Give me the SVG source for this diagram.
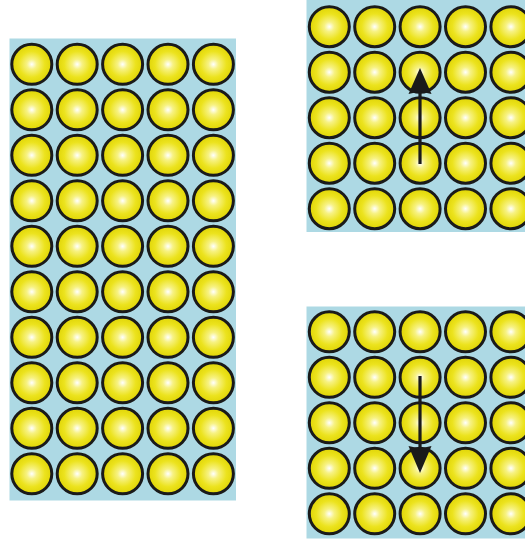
<svg xmlns="http://www.w3.org/2000/svg" xmlns:xlink="http://www.w3.org/1999/xlink" width="525" height="541" viewBox="0 0 525 541">
<style>
.panel{fill:#add9e4}
.ball{fill:url(#g);stroke:#1a1a1a;stroke-width:3}
.shaft{stroke:#1a1a1a;stroke-width:3.2;fill:none}
.head{fill:#1a1a1a}
</style>
<defs>
<radialGradient id="g" cx="0.5" cy="0.5" r="0.5">
<stop offset="0" stop-color="#ffffff"/>
<stop offset="0.25" stop-color="#f7f283"/>
<stop offset="0.65" stop-color="#ece31e"/>
<stop offset="1" stop-color="#e0d505"/>
</radialGradient>
<circle id="b" class="ball" r="20"/>
<g id="row5">
<use xlink:href="#b" x="0"/>
<use xlink:href="#b" x="45.4"/>
<use xlink:href="#b" x="90.8"/>
<use xlink:href="#b" x="136.2"/>
<use xlink:href="#b" x="181.6"/>
</g>
<g id="grid5">
<use xlink:href="#row5" y="0"/>
<use xlink:href="#row5" y="45.5"/>
<use xlink:href="#row5" y="91"/>
<use xlink:href="#row5" y="136.5"/>
<use xlink:href="#row5" y="182"/>
</g>
</defs>
<g id="left-panel">
<rect class="panel" x="9.5" y="38.5" width="226.5" height="462"/>
<use xlink:href="#grid5" x="31.8" y="64.3"/>
<use xlink:href="#grid5" x="31.8" y="291.8"/>
</g>
<g id="top-right-panel">
<rect class="panel" x="306.5" y="0" width="219" height="232"/>
<use xlink:href="#grid5" x="329.3" y="26.7"/>
</g>
<g id="bottom-right-panel">
<rect class="panel" x="306.5" y="306.5" width="219" height="232"/>
<use xlink:href="#grid5" x="329.3" y="331.8"/>
</g>
<g id="connectors">
<line class="shaft" x1="420" y1="164" x2="420" y2="90"/>
<polygon class="head" points="420,68 431.5,94 420,91.5 408.5,94"/>
<line class="shaft" x1="420" y1="376" x2="420" y2="450"/>
<polygon class="head" points="420,473 431.5,446 420,448.5 408.5,446"/>
</g>
</svg>
